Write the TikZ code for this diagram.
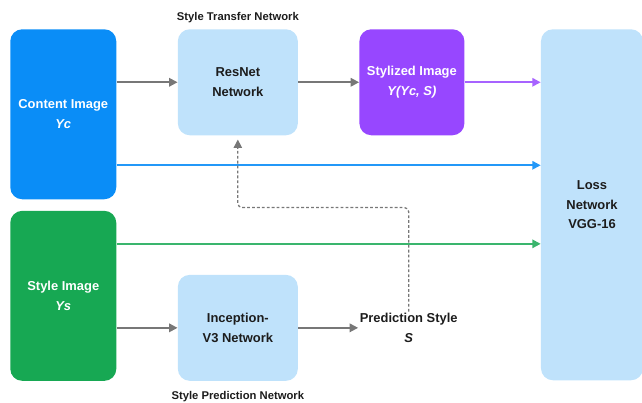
\documentclass[tikz,border=0pt]{standalone}
\usepackage{fontspec}
\setmainfont{Liberation Sans}
\usetikzlibrary{arrows.meta,positioning}

\definecolor{contentblue}{HTML}{0A8DF7}
\definecolor{stylegreen}{HTML}{17A853}
\definecolor{stylizedpurple}{HTML}{9747FF}
\definecolor{netblue}{HTML}{BFE2FB}
\definecolor{arrgray}{HTML}{777777}
\definecolor{inkdark}{HTML}{1C1C1C}

\begin{document}
\begin{tikzpicture}[
  node distance=2.5mm,
  box/.style={rounded corners=8.5pt,align=center,font=\bfseries\fontsize{9.2}{14}\selectfont},
  img/.style={box,text=white,minimum width=2.65cm,minimum height=4.25cm},
  net/.style={box,fill=netblue,text=inkdark,minimum width=3cm,minimum height=2.65cm},
  caplabel/.style={inner sep=0pt,font=\bfseries\fontsize{8}{10}\selectfont,text=inkdark},
  arr/.style={draw=arrgray,line width=1.3pt,-{Triangle[length=6pt,width=6pt]}},
  darr/.style={arr,line width=0.9pt,dash pattern=on 2pt off 1.5pt,rounded corners=3pt}
]
\useasboundingbox (0,0) rectangle (16.05,10.075);

% Left column
\node[img,fill=contentblue,anchor=north west] (content) at (0.25,9.35) {Content Image\\\textit{Yc}};
\node[img,fill=stylegreen,below=2.75mm of content] (style) {Style Image\\\textit{Ys}};
% Row 1
\node[net,anchor=north west] (resnet) at ([xshift=1.525cm]content.north east) {ResNet\\Network};
\node[box,fill=stylizedpurple,text=white,minimum width=2.625cm,minimum height=2.65cm,right=1.525cm of resnet] (stylized) {Stylized Image\\\textit{Y(Yc, S)}};
\node[net,anchor=north west,minimum width=2.55cm,minimum height=8.775cm] (loss) at ([xshift=1.9cm]stylized.north east) {Loss\\Network\\VGG-16};
% Row 2
\node[net,anchor=south] (incep) at (resnet.south |- style.south) {Inception-\\V3 Network};
\node[box,inner sep=1pt,text=inkdark,right=1.5cm of incep] (pred) {Prediction Style\\\textit{S}};

\node[caplabel,above=1.5mm of resnet] (transfer) {Style Transfer Network};
\node[caplabel,below=of incep] (prediction) {Style Prediction Network};

\draw[arr] (resnet.west -| content.east) -- (resnet);
\draw[arr] (resnet) -- (stylized);
\draw[arr,draw=stylizedpurple!85!white] (stylized) -- (stylized.east -| loss.west);
\draw[arr,draw=contentblue!90!white] ([yshift=-1.275cm]content.east) -- ([yshift=-1.275cm]content.east -| loss.west);
\draw[arr,draw=stylegreen!85!white] ([yshift=1.3cm]style.east) -- ([yshift=1.3cm]style.east -| loss.west);
\draw[arr] (incep.west -| style.east) -- (incep);
\draw[arr] (incep) -- (pred);
\draw[darr] (pred.north) -- ++(0,2.6) -| ([yshift=-1mm]resnet.south);
\end{tikzpicture}
\end{document}
